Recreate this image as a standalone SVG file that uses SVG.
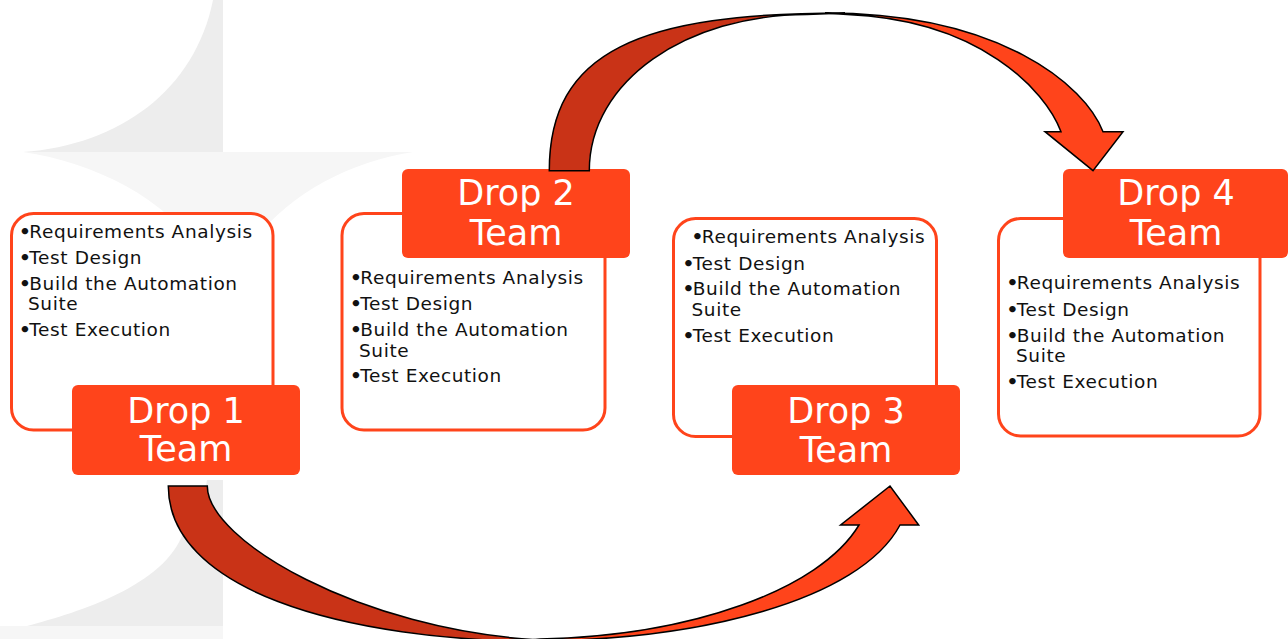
<svg xmlns="http://www.w3.org/2000/svg" width="1288" height="639" viewBox="0 0 1288 639">
  <style>
    .bg-dark { fill: #EDEDED; }
    .bg-light { fill: #F6F6F6; }
    .box { fill: #FFFFFF; fill-opacity: 0.92; stroke: #FF441B; stroke-width: 3; }
    .label { fill: #FF441B; }
    .label-text { font-family: "DejaVu Sans", Verdana, sans-serif; font-size: 35px; fill: #FFFFFF; text-anchor: middle; }
    .item { font-family: "DejaVu Sans", Verdana, sans-serif; font-size: 18.5px; letter-spacing: 0.6px; fill: #111111; }
    .bul { font-weight: bold; letter-spacing: -1.5px; }
    .arrow-front { fill: #FF441B; stroke: #000000; stroke-width: 1.5; stroke-linejoin: miter; }
    .arrow-back { fill: #C93317; stroke: #000000; stroke-width: 1.5; stroke-linejoin: miter; }
  </style>

  <rect x="0" y="0" width="1288" height="639" fill="#FFFFFF"/>

  <g id="background">
    <path class="bg-dark" d="M213,0 L223,0 L223,152 L23,152 C120,145 195,90 213,0 Z"/>
    <path class="bg-light" d="M23,152 L413,152 C330,165 250,215 223,300 C200,215 110,165 23,152 Z"/>
    <path class="bg-dark" d="M207,480 L223,480 L223,626 L27,626 C80,612 165,585 183,533 C195,510 205,495 207,480 Z"/>
    <rect class="bg-light" x="0" y="626" width="223" height="13"/>
  </g>

  <g id="node-drop1">
    <rect class="box" x="11.5" y="213.5" width="261.5" height="216.5" rx="22"/>
    <text class="item" x="19" y="238"><tspan class="bul">•</tspan>Requirements Analysis</text>
    <text class="item" x="19" y="263.5"><tspan class="bul">•</tspan>Test Design</text>
    <text class="item" x="19" y="289.5"><tspan class="bul">•</tspan>Build the Automation</text>
    <text class="item" x="28" y="310">Suite</text>
    <text class="item" x="19" y="336"><tspan class="bul">•</tspan>Test Execution</text>
    <rect class="label" x="72" y="385" width="228" height="90" rx="6"/>
    <text class="label-text" x="186" y="423">Drop 1</text>
    <text class="label-text" x="186" y="461">Team</text>
  </g>

  <g id="node-drop2">
    <rect class="box" x="342" y="213.5" width="263" height="216.5" rx="22"/>
    <rect class="label" x="402" y="169" width="228" height="89" rx="6"/>
    <text class="label-text" x="516" y="205">Drop 2</text>
    <text class="label-text" x="516" y="245">Team</text>
    <text class="item" x="350" y="284"><tspan class="bul">•</tspan>Requirements Analysis</text>
    <text class="item" x="350" y="310"><tspan class="bul">•</tspan>Test Design</text>
    <text class="item" x="350" y="336"><tspan class="bul">•</tspan>Build the Automation</text>
    <text class="item" x="359" y="357">Suite</text>
    <text class="item" x="350" y="382"><tspan class="bul">•</tspan>Test Execution</text>
  </g>

  <g id="node-drop3">
    <rect class="box" x="673.5" y="218.5" width="263" height="218" rx="22"/>
    <text class="item" x="691.5" y="243"><tspan class="bul">•</tspan>Requirements Analysis</text>
    <text class="item" x="682.5" y="270"><tspan class="bul">•</tspan>Test Design</text>
    <text class="item" x="682.5" y="295"><tspan class="bul">•</tspan>Build the Automation</text>
    <text class="item" x="691.5" y="315.5">Suite</text>
    <text class="item" x="682.5" y="342"><tspan class="bul">•</tspan>Test Execution</text>
    <rect class="label" x="732" y="385" width="228" height="90" rx="6"/>
    <text class="label-text" x="846" y="423">Drop 3</text>
    <text class="label-text" x="846" y="461.5">Team</text>
  </g>

  <g id="node-drop4">
    <rect class="box" x="998.5" y="218.5" width="261.5" height="217.5" rx="22"/>
    <rect class="label" x="1063" y="169" width="225" height="89" rx="6"/>
    <text class="label-text" x="1176" y="205">Drop 4</text>
    <text class="label-text" x="1176" y="245">Team</text>
    <text class="item" x="1006.5" y="289"><tspan class="bul">•</tspan>Requirements Analysis</text>
    <text class="item" x="1006.5" y="316"><tspan class="bul">•</tspan>Test Design</text>
    <text class="item" x="1006.5" y="341.5"><tspan class="bul">•</tspan>Build the Automation</text>
    <text class="item" x="1016" y="362">Suite</text>
    <text class="item" x="1006.5" y="388"><tspan class="bul">•</tspan>Test Execution</text>
  </g>

  <g id="connectors">
    <g id="arrow-drop2-drop4">
      <path class="arrow-front" d="M825,13 C1000,13 1085,85 1103,131.7 L1123,131.7 L1093,170.7 L1045,131.7 L1061,131.7 C1045,90 980,20 847,14.5 Z"/>
      <path class="arrow-back" d="M549.3,170.7 C549.3,50.7 640,13 845,13 L807,14.5 C687,14.5 589.3,80.7 589.3,170.7 Z"/>
    </g>
    <g id="arrow-drop1-drop3">
      <path class="arrow-front" d="M520,641 C700,642 860,600 900,525 L918.7,525 L890,486 L840.6,525 L859,525 C820,590 690,636 540,639 Z"/>
      <path class="arrow-back" d="M168.3,486 C168.3,586 330,642 560,642 L540,640 C360,630 207.3,540 207.3,486 Z"/>
    </g>
  </g>
</svg>
